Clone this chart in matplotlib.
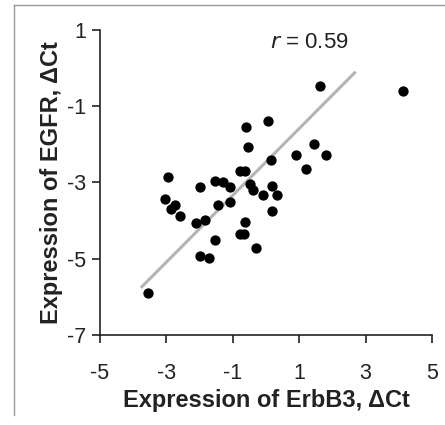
import matplotlib
matplotlib.use("Agg")
import matplotlib.pyplot as plt
import numpy as np
from matplotlib.lines import Line2D

plt.rcParams["font.family"] = ["Liberation Sans", "DejaVu Sans"]
plt.rcParams["axes.unicode_minus"] = False

# ErbB3 dCt (x) vs EGFR dCt (y)
erbb3 = [-3.54, -2.95, -3.04, -2.86, -2.73, -2.60, -2.00, -2.10, -1.85, -2.00,
         -1.72, -1.55, -1.31, -1.09, -1.45, -1.09, -1.55, -0.78, -0.63, -0.60,
         -0.54, -0.48, -0.40, -0.64, -0.78, -0.66, -0.31, 0.05, 0.14, -0.10,
         0.18, 0.32, 0.18, 0.91, 1.19, 1.45, 1.82, 1.63, 4.13]
egfr = [-5.89, -2.85, -3.44, -3.70, -3.59, -3.87, -3.13, -4.07, -3.98, -4.94,
        -4.98, -2.96, -3.00, -3.11, -3.60, -3.51, -4.50, -2.69, -2.69, -1.54,
        -2.06, -3.04, -3.20, -4.03, -4.34, -4.34, -4.73, -1.38, -2.41, -3.32,
        -3.08, -3.32, -3.75, -2.29, -2.64, -1.98, -2.29, -0.47, -0.59]
# trend line as drawn in the original (slope, intercept, x span)
fit_slope = 0.876
fit_intercept = -2.46
fit_range = [-3.77, 2.70]
r_value = 0.59
xticks = [-5, -3, -1, 1, 3, 5]
yticks = [1, -1, -3, -5, -7]


def main():
    x = np.array(erbb3)
    y = np.array(egfr)

    fig = plt.figure(figsize=(4.45, 4.25), dpi=100)
    ax = fig.add_axes([0.2247, 0.2118, 0.9708 - 0.2247, 0.9294 - 0.2118])

    xs = np.array(fit_range)
    ax.plot(xs, fit_slope * xs + fit_intercept, color="#b4b4b4", lw=2.2,
            zorder=1, solid_capstyle="butt")
    ax.scatter(x, y, s=55, color="black", zorder=2, linewidths=0)

    ax.set_xlim(-5, 5)
    ax.set_ylim(-7, 1)
    ax.set_xticks(xticks)
    ax.set_yticks(yticks)
    for s in ("top", "right"):
        ax.spines[s].set_visible(False)
    for s in ("left", "bottom"):
        ax.spines[s].set_linewidth(1.2)
        ax.spines[s].set_color("#222222")
    ax.tick_params(direction="out", length=6, width=1.2, color="#222222",
                   labelsize=15.5, labelcolor="#222222")
    ax.tick_params(axis="x", pad=14)
    ax.tick_params(axis="y", pad=4)

    ax.set_xlabel("Expression of ErbB3, ΔCt", fontsize=17, fontweight="bold",
                  color="#222222", labelpad=4)
    ax.set_ylabel("Expression of EGFR, ΔCt", fontsize=17, fontweight="bold",
                  color="#222222", labelpad=3)

    ax.text(0.512, 0.96, "$\\it{r}$ = %.2f" % r_value, transform=ax.transAxes,
            fontsize=16, color="#222222", ha="left", va="center")

    # panel frame (top and left edges)
    fig.add_artist(Line2D([14 / 445, 14 / 445], [1 - 415 / 425, 1 - 5 / 425],
                          transform=fig.transFigure, color="#9a9a9a", lw=1))
    fig.add_artist(Line2D([14 / 445, 1.0], [1 - 5 / 425, 1 - 5 / 425],
                          transform=fig.transFigure, color="#9a9a9a", lw=1))

    fig.savefig("out.png", dpi=100)
    plt.close(fig)


if __name__ == "__main__":
    main()
